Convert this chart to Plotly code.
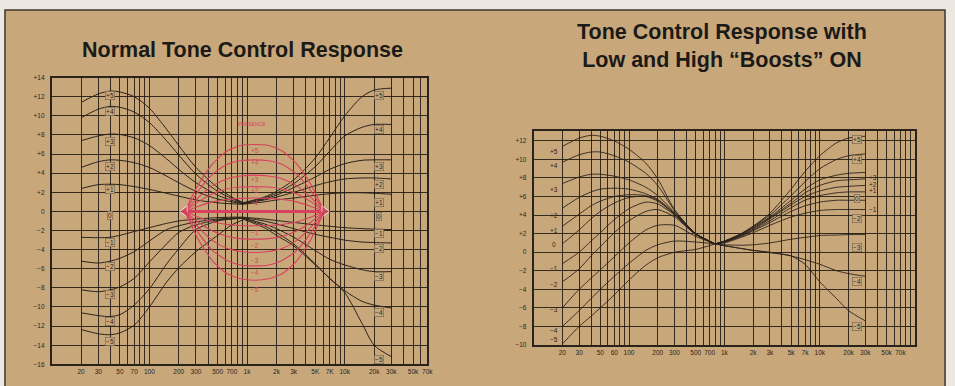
import math
import plotly.graph_objects as go

# ---------------- data ----------------
LEVELS = ["+5", "+4", "+3", "+2", "+1", "0", "−1", "−2", "−3", "−4", "−5"]

# Left chart: "Normal Tone Control Response"
L_BASS_F = [20, 30, 40, 50, 70, 100, 150, 200, 300, 500, 700, 900]
L_BASS_DB = [
    [11.4, 12.3, 12.6, 12.5, 12.0, 10.8, 8.6, 6.9, 4.6, 2.5, 1.5, 0.95],
    [9.8, 10.7, 11.0, 10.9, 10.4, 9.3, 7.4, 5.9, 3.9, 2.1, 1.35, 0.9],
    [7.4, 7.9, 8.1, 8.05, 7.7, 6.9, 5.5, 4.4, 3.0, 1.7, 1.15, 0.85],
    [4.6, 5.2, 5.4, 5.35, 5.1, 4.6, 3.7, 3.0, 2.1, 1.3, 1.0, 0.8],
    [2.4, 2.8, 2.85, 2.8, 2.6, 2.3, 1.9, 1.6, 1.2, 0.9, 0.8, 0.75],
    [0, 0, 0, 0, 0, 0, 0, 0, 0, 0, 0, 0],
    [-2.7, -2.75, -2.7, -2.5, -2.1, -1.7, -1.25, -1.0, -0.8, -0.65, -0.6, -0.6],
    [-5.2, -5.4, -5.2, -4.9, -4.2, -3.1, -1.9, -1.5, -1.1, -0.8, -0.7, -0.65],
    [-8.2, -8.4, -8.2, -7.9, -7.0, -5.3, -3.4, -2.2, -1.4, -0.9, -0.75, -0.7],
    [-10.6, -10.9, -11.0, -10.8, -9.8, -8.1, -5.5, -3.9, -1.9, -1.0, -0.8, -0.7],
    [-12.35, -12.8, -12.9, -12.7, -11.9, -10.0, -7.4, -5.9, -4.2, -2.5, -1.4, -0.9],
]
L_TREB_F = [900, 1500, 2000, 3000, 5000, 7000, 10000, 15000, 20000, 30000]
L_TREB_DB = [
    [0.9, 1.5, 2.1, 3.3, 5.6, 7.7, 10.0, 12.0, 12.7, 12.9],
    [0.85, 1.4, 1.9, 2.9, 4.7, 6.3, 7.9, 8.8, 9.1, 9.1],
    [0.8, 1.3, 1.7, 2.5, 3.6, 4.4, 5.0, 5.35, 5.4, 5.4],
    [0.8, 1.2, 1.5, 2.0, 2.7, 3.1, 3.4, 3.5, 3.5, 3.4],
    [0.75, 1.0, 1.2, 1.4, 1.7, 1.85, 1.95, 1.95, 1.9, 1.8],
    [0, 0, 0, 0, 0, 0, 0, 0, 0, 0],
    [-0.6, -0.8, -0.95, -1.15, -1.4, -1.55, -1.7, -1.8, -1.85, -1.9],
    [-0.65, -1.0, -1.3, -1.8, -2.4, -2.7, -3.0, -3.2, -3.25, -3.3],
    [-0.7, -1.3, -1.8, -2.7, -4.1, -5.0, -5.6, -6.1, -6.3, -6.3],
    [-0.7, -1.5, -2.2, -3.4, -5.5, -7.0, -8.3, -9.4, -9.8, -10.1],
    [-0.8, -1.7, -2.5, -3.6, -5.6, -7.0, -8.5, -11.7, -14.0, -15.2],
]
PRES_F = [230, 320, 445, 620, 860, 1190, 1660, 2310, 3210, 4460, 6190]
PRES_DB = [
    [0, 2.9, 5.0, 6.3, 6.9, 7.0, 6.9, 6.3, 5.0, 2.9, 0],
    [0, 2.2, 3.9, 4.9, 5.3, 5.4, 5.3, 4.9, 3.9, 2.2, 0],
    [0, 1.5, 2.7, 3.4, 3.7, 3.8, 3.7, 3.4, 2.7, 1.5, 0],
    [0, 1.05, 1.85, 2.35, 2.55, 2.6, 2.55, 2.35, 1.85, 1.05, 0],
    [0, 0.55, 1.0, 1.25, 1.37, 1.4, 1.37, 1.25, 1.0, 0.55, 0],
    [0, 0, 0, 0, 0, 0, 0, 0, 0, 0, 0],
    [0, -0.6, -1.1, -1.35, -1.47, -1.5, -1.47, -1.35, -1.1, -0.6, 0],
    [0, -1.15, -2.05, -2.6, -2.85, -2.9, -2.85, -2.6, -2.05, -1.15, 0],
    [0, -1.7, -3.05, -3.85, -4.2, -4.3, -4.2, -3.85, -3.05, -1.7, 0],
    [0, -2.3, -4.1, -5.1, -5.6, -5.7, -5.6, -5.1, -4.1, -2.3, 0],
    [0, -3.0, -5.2, -6.5, -7.05, -7.2, -7.05, -6.5, -5.2, -3.0, 0],
]

# Right chart: "Boosts" ON
R_BASS_F = [20, 30, 40, 50, 70, 100, 150, 200, 300, 500, 800]
R_BASS_DB = [
    [11.4, 12.3, 12.6, 12.5, 12.0, 11.1, 9.6, 7.9, 4.6, 2.0, 0.9],
    [9.7, 10.5, 10.8, 10.8, 10.4, 9.7, 8.5, 7.2, 4.5, 2.0, 0.9],
    [7.4, 8.1, 8.4, 8.4, 8.2, 7.8, 7.0, 6.1, 4.3, 2.0, 0.9],
    [4.75, 5.9, 6.5, 6.8, 6.9, 6.8, 6.3, 5.7, 4.2, 2.0, 0.9],
    [2.8, 4.1, 5.0, 5.5, 6.0, 6.2, 6.1, 5.6, 4.1, 2.0, 0.9],
    [0.9, 2.4, 3.6, 4.4, 5.3, 5.9, 6.0, 5.5, 4.1, 2.0, 0.9],
    [-1.24, 0.0, 1.2, 2.1, 3.5, 4.7, 5.4, 5.2, 4.0, 1.9, 0.9],
    [-3.2, -1.8, -0.4, 0.6, 2.1, 3.4, 4.4, 4.6, 3.8, 1.9, 0.9],
    [-6.0, -4.0, -2.8, -1.9, -0.5, 1.0, 2.4, 2.9, 2.9, 1.7, 0.9],
    [-8.0, -6.3, -5.0, -4.0, -2.6, -1.2, 0.2, 0.8, 1.2, 1.1, 0.9],
    [-9.9, -8.0, -6.9, -6.0, -4.6, -3.0, -1.4, -0.6, 0.0, 0.3, 0.9],
]
R_TREB_F = [800, 1000, 1500, 2000, 3000, 5000, 7000, 10000, 15000, 20000, 30000]
R_TREB_DB = [
    [0.9, 1.2, 2.0, 2.8, 4.2, 6.8, 8.7, 10.4, 11.8, 12.3, 12.5],
    [0.9, 1.2, 2.0, 2.8, 4.0, 6.1, 7.6, 9.0, 10.0, 10.4, 10.6],
    [0.9, 1.15, 1.9, 2.7, 3.8, 5.6, 6.8, 7.8, 8.3, 8.5, 8.6],
    [0.9, 1.15, 1.9, 2.6, 3.7, 5.3, 6.4, 7.2, 7.7, 7.8, 7.9],
    [0.9, 1.1, 1.8, 2.5, 3.6, 5.1, 6.0, 6.6, 7.0, 7.1, 7.2],
    [0.9, 1.1, 1.8, 2.4, 3.4, 4.8, 5.6, 6.1, 6.4, 6.5, 6.5],
    [0.9, 1.1, 1.7, 2.3, 3.2, 4.4, 5.0, 5.4, 5.6, 5.6, 5.6],
    [0.9, 1.0, 1.6, 2.1, 2.9, 3.8, 4.2, 4.5, 4.6, 4.6, 4.6],
    [0.9, 0.8, 0.75, 0.8, 1.0, 1.4, 1.6, 1.8, 1.85, 1.9, 1.9],
    [0.9, 0.7, 0.4, 0.2, 0.0, -0.4, -0.8, -1.3, -2.0, -2.3, -2.6],
    [0.9, 0.7, 0.4, 0.2, -0.05, -0.4, -1.3, -3.2, -5.0, -6.3, -7.4],
]

# tick labels
L_XTICKS = [20, 30, 40, 50, 60, 70, 80, 90, 100, 200, 300, 400, 500, 600, 700, 800, 900,
            1000, 2000, 3000, 4000, 5000, 6000, 7000, 8000, 9000,
            10000, 20000, 30000, 40000, 50000, 60000, 70000]
L_XTEXT = ["20", "30", "", "50", "", "70", "", "", "100", "200", "300", "", "500", "", "700", "", "",
           "1k", "2k", "3k", "", "5K", "", "7K", "", "",
           "10k", "20k", "30k", "", "50k", "", "70k"]
R_XTICKS = [20, 30, 40, 50, 60, 70, 80, 90, 100, 200, 300, 400, 500, 600, 700, 800, 900,
            1000, 2000, 3000, 4000, 5000, 6000, 7000, 8000, 9000,
            10000, 20000, 30000, 40000, 50000, 60000, 70000, 80000, 90000]
R_XTEXT = ["20", "30", "", "50", "", "60", "", "", "100", "200", "300", "", "500", "", "700", "", "",
           "1k", "2k", "3k", "", "5k", "", "7k", "", "",
           "10k", "20k", "30k", "", "50k", "", "70k", "", ""]
L_YTICKS = list(range(-16, 15, 2))
L_YTEXT = ["−16", "−14", "−12", "−10", "−8", "−6", "−4", "−2", "0",
           "+2", "+4", "+6", "+8", "+10", "+12", "+14"]
R_YTICKS = list(range(-10, 13, 2))
R_YTEXT = ["−10", "−8", "−6", "−4", "−2", "0", "+2", "+4", "+6", "+8", "+10", "+12"]

# ---------------- styles ----------------
BG = "#c8a87b"
INK = "#2a231c"
GRID = "rgba(35,28,20,0.9)"
RED = "#d8405e"
FONT = "Liberation Sans, Arial, sans-serif"

fig = go.Figure()


def add_curves(freqs, rows, xa, ya, color, width, smooth):
    for row in rows:
        fig.add_trace(go.Scatter(x=freqs, y=row, xaxis=xa, yaxis=ya, mode="lines",
                                 line=dict(color=color, width=width, shape="spline", smoothing=smooth),
                                 hoverinfo="skip", showlegend=False))


add_curves(L_BASS_F, L_BASS_DB, "x", "y", INK, 1.0, 0.8)
add_curves(L_TREB_F, L_TREB_DB, "x", "y", INK, 1.0, 0.8)
for i, row in enumerate(PRES_DB):
    is_zero = LEVELS[i] == "0"
    fig.add_trace(go.Scatter(
        x=PRES_F, y=row, xaxis="x", yaxis="y",
        mode="lines+markers" if is_zero else "lines",
        line=dict(color=RED, width=3 if is_zero else 1.1, shape="spline", smoothing=0.55),
        marker=dict(color=RED, size=[10] + [0] * (len(PRES_F) - 2) + [10],
                    symbol=["triangle-left"] + ["circle"] * (len(PRES_F) - 2) + ["triangle-right"]),
        hoverinfo="skip", showlegend=False))
add_curves(R_BASS_F, R_BASS_DB, "x2", "y2", INK, 0.9, 0.7)
add_curves(R_TREB_F, R_TREB_DB, "x2", "y2", INK, 0.9, 0.7)

ann = []


def lab(text, x, y, xref, yref, color=INK, box=False, size=6.5):
    d = dict(text=text, x=x, y=y, xref=xref, yref=yref, showarrow=False,
             font=dict(family=FONT, size=size, color=color))
    if box:
        d.update(bgcolor=BG, bordercolor="#6e6152", borderwidth=0.6, borderpad=0.5)
    ann.append(d)


# label positions (log10 Hz / dB)
L_BASS_LAB_Y = [12.1, 10.5, 7.3, 4.7, 2.3, -0.45, -3.3, -5.8, -8.7, -11.55, -13.6]
L_TREB_LAB_Y = [12.1, 8.6, 4.7, 2.8, 0.9, -0.5, -2.3, -3.9, -6.85, -10.6, -15.5]
PRES_LAB_Y = [6.42, 5.08, 3.36, 2.23, 0.93, -0.51, -2.16, -3.6, -5.14, -6.41, -8.13]
for i, t in enumerate(LEVELS):
    lab(t, math.log10(40), L_BASS_LAB_Y[i], "x", "y", box=True)
    lab(t, math.log10(22500), L_TREB_LAB_Y[i], "x", "y", box=True)
    if t != "0":
        lab(t, math.log10(1210), PRES_LAB_Y[i], "x", "y", color=RED, size=6.5)
lab("PRESENCE", math.log10(1120), 9.2, "x", "y", color=RED, size=5)

R_BASS_LAB_Y = [10.9, 9.3, 6.8, 4.0, 2.35, 0.8, -1.76, -3.5, -6.2, -8.45, -9.4]
R_TREB_LAB = [(24400, 12.1, True), (24400, 10.0, True), (36400, 8.0, False), (36400, 7.3, False),
              (36400, 6.6, False), (24400, 5.8, True), (36400, 4.6, False), (24400, 3.6, True),
              (24400, 0.5, True), (24400, -3.2, True), (24400, -8.0, True)]
for i, t in enumerate(LEVELS):
    lab(t, math.log10(16.3), R_BASS_LAB_Y[i], "x2", "y2")
    fx, fy, bx = R_TREB_LAB[i]
    lab(t, math.log10(fx), fy, "x2", "y2", box=bx)

ann.append(dict(text="<b>Normal Tone Control Response</b>", x=244 / 955, y=1 - 47 / 386,
                xref="paper", yref="paper", showarrow=False, xanchor="center", yanchor="middle",
                font=dict(family=FONT, size=21.5, color="#1c1a17")))
ann.append(dict(text="<b>Tone Control Response with<br>Low and High “Boosts” ON</b>",
                x=727 / 955, y=1 - 43 / 386, xref="paper", yref="paper", showarrow=False,
                xanchor="center", yanchor="middle",
                font=dict(family=FONT, size=21.5, color="#1c1a17")))

ax_common = dict(showgrid=True, gridcolor=GRID, gridwidth=1.2, showline=True, mirror=True,
                 linecolor=INK, linewidth=1.7, zeroline=False, ticks="",
                 tickfont=dict(family=FONT, size=6.5, color=INK))

fig.update_layout(
    width=955, height=386, margin=dict(l=0, r=0, t=0, b=0),
    paper_bgcolor="#ece8e1", plot_bgcolor="rgba(0,0,0,0)", showlegend=False,
    xaxis=dict(domain=[52 / 955, 430 / 955], type="log", range=[1, math.log10(70000)],
               tickvals=L_XTICKS, ticktext=L_XTEXT, anchor="y", tickangle=0, **ax_common),
    yaxis=dict(domain=[1 - 367 / 386, 1 - 75 / 386], range=[-16, 14],
               tickvals=L_YTICKS, ticktext=L_YTEXT, anchor="x", ticklabelstandoff=4, **ax_common),
    xaxis2=dict(domain=[537 / 955, 921 / 955], type="log", range=[1, 5],
                tickvals=R_XTICKS, ticktext=R_XTEXT, anchor="y2", tickangle=0, **ax_common),
    yaxis2=dict(domain=[1 - 347.3 / 386, 1 - 129 / 386], range=[-10, 13.1],
                tickvals=R_YTICKS, ticktext=R_YTEXT, anchor="x2", ticklabelstandoff=4, **ax_common),
    annotations=ann,
    shapes=[dict(type="rect", xref="paper", yref="paper", x0=5 / 955, x1=951 / 955,
                 y0=-0.02, y1=1 - 6 / 386, fillcolor=BG, line=dict(color="#3b3630", width=1.5),
                 layer="below")],
)

fig.write_html("out.html")
